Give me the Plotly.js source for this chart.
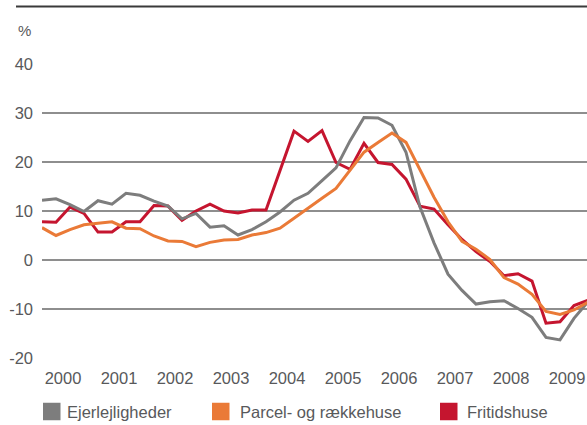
<!DOCTYPE html>
<html>
<head>
<meta charset="utf-8">
<script src="https://cdn.plot.ly/plotly-3.0.1.min.js"></script>
<style>
  html, body { margin: 0; padding: 0; background: #ffffff; }
  #chart { width: 587px; height: 425px; }
</style>
</head>
<body>
<div id="chart"></div>
<script>
// Årlig prisstigning i procent, kvartalsvis 2000K1-2009K4
const years = [2000, 2001, 2002, 2003, 2004, 2005, 2006, 2007, 2008, 2009];

const ejerlejligheder = [
  12.2, 12.5, 11.3, 9.9, 12.1, 11.4, 13.6, 13.2, 12.0, 11.0,
  8.4, 9.5, 6.7, 7.0, 5.1, 6.2, 7.8, 9.8, 12.2, 13.6,
  16.2, 18.8, 24.3, 29.1, 29.0, 27.5, 22.0, 10.8, 3.5, -2.9,
  -6.2, -9.0, -8.5, -8.3, -9.9, -11.7, -15.8, -16.3, -11.9, -8.5
];

const parcelRaekkehuse = [
  6.6, 5.0, 6.2, 7.2, 7.5, 7.8, 6.5, 6.4, 4.9, 3.9,
  3.8, 2.7, 3.6, 4.1, 4.2, 5.1, 5.6, 6.5, 8.5, 10.6,
  12.6, 14.6, 18.2, 22.0, 24.0, 25.9, 24.0, 18.5, 12.8, 7.8,
  3.8, 2.2, 0.1, -3.6, -4.9, -7.0, -10.5, -11.1, -10.2, -8.6
];

const fritidshuse = [
  7.8, 7.7, 10.8, 9.5, 5.7, 5.7, 7.8, 7.8, 11.1, 11.0,
  8.1, 10.0, 11.4, 10.0, 9.6, 10.2, 10.2, 18.3, 26.3, 24.2,
  26.4, 19.9, 18.5, 23.8, 19.9, 19.5, 16.5, 11.0, 10.4, 7.2,
  4.2, 1.7, -0.3, -3.2, -2.8, -4.3, -12.9, -12.6, -9.3, -8.2
];

const seriesNames = ['Ejerlejligheder', 'Parcel- og rækkehuse', 'Fritidshuse'];
const yTicks = [-20, -10, 0, 10, 20, 30, 40];

// Colours for the three series (same order as seriesNames)
const colors = ['#7d7d7d', '#ea7a37', '#c5152f'];
const textColor = '#58595b';
const fontFamily = '"Liberation Sans", Arial, sans-serif';

// Each quarter is placed at the middle of its quarter on a decimal-year axis
const quarterX = [];
years.forEach(function (y) {
  for (let q = 1; q <= 4; q++) quarterX.push(y + (q - 0.5) / 4);
});

// Plot-area geometry in pixels, used to place the header line and legend
const W = 587, H = 425;
const M = { l: 42, r: 0, t: 64, b: 67 };
const plotW = W - M.l - M.r;
const plotH = H - M.t - M.b;
const px = function (x) { return (x - M.l) / plotW; };
const py = function (y) { return (H - M.b - y) / plotH; };

const quarterPx = 14;               // pixel width of one quarter
const xStart = quarterX[0];
const xEnd = xStart + (plotW / quarterPx) / 4;

function lineTrace(values, i) {
  return {
    x: quarterX,
    y: values,
    type: 'scatter',
    mode: 'lines',
    name: seriesNames[i],
    line: { color: colors[i], width: 3, shape: 'linear' },
    hoverinfo: 'skip'
  };
}

// Drawing order: red below, then grey, orange on top
const data = [
  lineTrace(fritidshuse, 2),
  lineTrace(ejerlejligheder, 0),
  lineTrace(parcelRaekkehuse, 1)
];

// Hand-built legend: square swatch + label
const legendItems = [
  { sx: 43, tx: 65 },
  { sx: 212, tx: 238 },
  { sx: 440, tx: 465 }
];
const legendY = 411.5, sw = 17.5;

const shapes = [
  {
    type: 'line', xref: 'paper', yref: 'paper',
    x0: px(16), x1: px(W), y0: py(6.5), y1: py(6.5),
    line: { color: '#3a3a3a', width: 2.2 }
  }
];
const annotations = [
  {
    text: '%', xref: 'paper', yref: 'paper',
    x: px(16), y: py(31), xanchor: 'left', yanchor: 'middle',
    showarrow: false, font: { family: fontFamily, size: 15, color: textColor }
  }
];

legendItems.forEach(function (it, i) {
  shapes.push({
    type: 'rect', xref: 'paper', yref: 'paper',
    x0: px(it.sx), x1: px(it.sx + sw),
    y0: py(legendY + sw / 2), y1: py(legendY - sw / 2),
    fillcolor: colors[i], line: { width: 0 }
  });
  annotations.push({
    text: seriesNames[i], xref: 'paper', yref: 'paper',
    x: px(it.tx), y: py(legendY), xanchor: 'left', yanchor: 'middle',
    showarrow: false,
    font: { family: fontFamily, size: 16.5, color: textColor }
  });
});

const layout = {
  width: W, height: H,
  margin: M,
  paper_bgcolor: '#ffffff',
  plot_bgcolor: '#ffffff',
  showlegend: false,
  font: { family: fontFamily, size: 16.5, color: textColor },
  xaxis: {
    type: 'linear',
    range: [xStart, xEnd],
    tickvals: years.map(function (y) { return y + 0.5; }),
    ticktext: years.map(String),
    showgrid: false, zeroline: false, showline: false,
    ticks: '',
    ticklabelstandoff: 8,
    tickfont: { family: fontFamily, size: 16.5, color: textColor }
  },
  yaxis: {
    range: [-20, 40],
    tickvals: yTicks,
    ticktext: yTicks.map(String),
    showgrid: true, gridcolor: '#8e8e8e', gridwidth: 1.6,
    zeroline: false, showline: false,
    ticks: '',
    ticklabelstandoff: 8,
    tickfont: { family: fontFamily, size: 16.5, color: textColor }
  },
  shapes: shapes,
  annotations: annotations
};

Plotly.newPlot('chart', data, layout, { displayModeBar: false, staticPlot: true });
</script>
</body>
</html>
